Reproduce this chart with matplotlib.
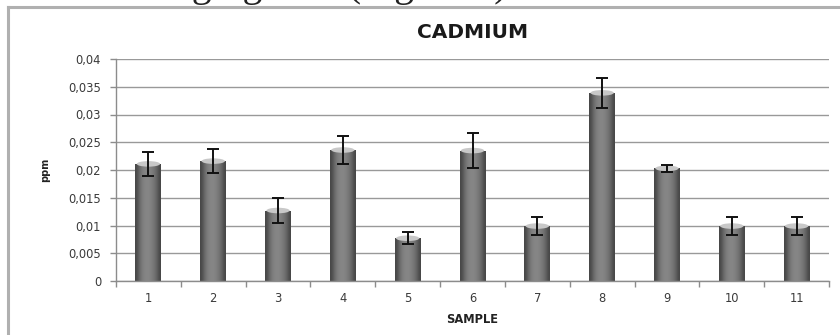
import numpy as np
import matplotlib
matplotlib.use("Agg")
import matplotlib.pyplot as plt
from matplotlib.lines import Line2D
from matplotlib.patches import Ellipse

# Cadmium concentration per sample (ppm) with standard deviation
samples = ["1", "2", "3", "4", "5", "6", "7", "8", "9", "10", "11"]
cadmium = [0.0211, 0.0216, 0.0127, 0.0236, 0.0077, 0.0235, 0.0099, 0.0339, 0.0203, 0.0099, 0.0099]
cadmium_sd = [0.0022, 0.0022, 0.0022, 0.0026, 0.0011, 0.0031, 0.0016, 0.0027, 0.0006, 0.0016, 0.0016]
y_ticks = [0, 0.005, 0.01, 0.015, 0.02, 0.025, 0.03, 0.035, 0.04]
y_tick_labels = ["0", "0,005", "0,01", "0,015", "0,02", "0,025", "0,03", "0,035", "0,04"]

plt.rcParams["font.family"] = ["DejaVu Sans"]

fig = plt.figure(figsize=(8.4, 3.35), dpi=100)
fig.patch.set_facecolor("white")

# caption line of the surrounding page, cut off at the top edge
fig.text(517 / 840, 1 + 4 / 335, "results of the merging data (Figure 3).",
         family=["Liberation Serif", "DejaVu Serif"], fontsize=28.5,
         va="baseline", ha="right", color="#222222")

# chart frame
frame_color = "#b0b0b0"
fig.add_artist(Line2D([8 / 840, 8 / 840], [0, 1 - 7 / 335], transform=fig.transFigure,
                      color=frame_color, lw=2.2))
fig.add_artist(Line2D([8 / 840, 1], [1 - 7 / 335, 1 - 7 / 335], transform=fig.transFigure,
                      color=frame_color, lw=2.2))

ax = fig.add_axes([116 / 840, 1 - 281 / 335, (829 - 116) / 840, (281 - 59) / 335])
x = np.arange(len(samples))

bars = ax.bar(x, cadmium, width=0.4, color="#747474", edgecolor="none", zorder=2)

# cylinder shading across each bar
shade = np.array([0.28, 0.38, 0.47, 0.51, 0.53, 0.52, 0.49, 0.45, 0.38, 0.28])
grad = np.tile(shade, (2, 1))
for bar in bars:
    x0, w, h = bar.get_x(), bar.get_width(), bar.get_height()
    im = ax.imshow(grad, cmap="gray", vmin=0, vmax=1, aspect="auto",
                   extent=[x0, x0 + w, 0, h], interpolation="bicubic", zorder=2.1)
    im.set_clip_path(bar)
    top = Ellipse((x0 + w / 2, h), w * 0.9, 0.0010, facecolor="#c8c8c8",
                  edgecolor="none", zorder=2.2)
    top.set_clip_path(bar)
    ax.add_patch(top)

ax.errorbar(x, cadmium, yerr=cadmium_sd, fmt="none", ecolor="#111111",
            elinewidth=1.4, capsize=4, capthick=1.4, zorder=3)

ax.set_xlim(-0.5, len(samples) - 0.5)
ax.set_ylim(0, 0.04)
ax.set_yticks(y_ticks)
ax.set_yticklabels(y_tick_labels)
ax.set_xticks(x)
ax.set_xticklabels(samples)
ax.set_xticks(np.arange(-0.5, len(samples)), minor=True)

ax.grid(axis="y", color="#999999", lw=1.0, zorder=0)
ax.set_axisbelow(True)
for side in ("top", "right"):
    ax.spines[side].set_visible(False)
for side in ("left", "bottom"):
    ax.spines[side].set_color("#8c8c8c")
    ax.spines[side].set_linewidth(1.0)

ax.tick_params(axis="y", length=4.3, width=1.0, color="#8c8c8c", labelsize=8.3,
               labelcolor="#3a3a3a", pad=6.5)
ax.tick_params(axis="x", which="major", length=0, labelsize=8.3, labelcolor="#3a3a3a", pad=8)
ax.tick_params(axis="x", which="minor", length=4, width=1.0, color="#8c8c8c")

ax.set_xlabel("SAMPLE", fontsize=8.3, fontweight="bold", color="#222222", labelpad=6)
ax.set_ylabel("ppm", fontsize=7, fontweight="bold", color="#222222", labelpad=13)
ax.set_title("CADMIUM", fontsize=14.5, fontweight="bold", color="#1a1a1a", pad=15)

fig.savefig("out.png", dpi=100, facecolor="white")
